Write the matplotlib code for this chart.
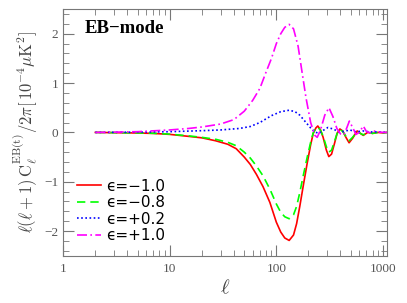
# EB-mode spectra for several epsilon values

import numpy as np
import matplotlib.pyplot as plt
from matplotlib.ticker import MultipleLocator, LogLocator, NullFormatter

plt.rcParams['mathtext.fontset'] = 'cm'

# multipoles for the negative-epsilon curves
ell_neg = [2, 3, 5, 7, 10, 15, 20, 27, 35, 42, 50, 57, 65, 75, 87, 100, 110, 120,
           132, 145, 155, 166, 180, 195, 210, 222, 235, 245, 260, 275, 295, 311,
           330, 352, 372, 395, 420, 450, 482, 520, 574, 615, 655, 720, 800, 900,
           1000, 1100]
eps_m10 = [0, -0.005, -0.012, -0.02, -0.04, -0.08, -0.11, -0.17, -0.24, -0.33,
           -0.5, -0.65, -0.85, -1.1, -1.42, -1.82, -2.02, -2.14, -2.19, -2.08,
           -1.85, -1.5, -1.05, -0.62, -0.25, -0.02, 0.09, 0.13, 0.05, -0.1,
           -0.36, -0.49, -0.44, -0.22, -0.02, 0.07, 0.03, -0.1, -0.21, -0.12,
           0.03, -0.02, -0.06, 0.0, -0.02, 0.0, -0.01, 0]
eps_m08 = [0, -0.005, -0.01, -0.018, -0.035, -0.07, -0.1, -0.14, -0.2, -0.27,
           -0.4, -0.52, -0.68, -0.88, -1.15, -1.45, -1.62, -1.71, -1.75, -1.67,
           -1.5, -1.22, -0.85, -0.5, -0.2, -0.01, 0.08, 0.11, 0.04, -0.08,
           -0.29, -0.4, -0.36, -0.18, -0.02, 0.06, 0.02, -0.08, -0.17, -0.1,
           0.02, -0.02, -0.05, 0.0, -0.02, 0, -0.01, 0]

ell_p02 = [2, 5, 10, 20, 30, 45, 57, 70, 90, 110, 132, 150, 166, 190, 210, 230,
           250, 275, 305, 340, 390, 430, 490, 560, 650, 750, 900, 1100]
eps_p02 = [0, 0.005, 0.015, 0.035, 0.05, 0.08, 0.12, 0.2, 0.34, 0.42, 0.45, 0.42,
           0.35, 0.2, 0.09, 0.01, -0.02, 0.04, 0.1, 0.07, 0.01, 0.02, 0.05, 0.01,
           0.03, 0.01, 0.01, 0]

ell_p10 = [2, 3, 5, 10, 15, 20, 30, 40, 50, 60, 70, 80, 90, 100, 110, 120, 132,
           145, 160, 175, 190, 210, 230, 242, 260, 285, 312, 340, 370, 400, 430,
           460, 485, 520, 560, 600, 655, 700, 760, 820, 900, 1000, 1100]
eps_p10 = [0, 0.005, 0.015, 0.05, 0.08, 0.11, 0.17, 0.26, 0.43, 0.65, 0.89, 1.22,
           1.5, 1.8, 2.0, 2.13, 2.19, 2.1, 1.75, 1.2, 0.7, 0.2, -0.06, -0.1, 0.05,
           0.35, 0.5, 0.32, 0.08, -0.03, -0.05, 0.1, 0.23, 0.1, -0.04, 0.0, 0.13,
           0.02, -0.01, 0.03, 0.01, 0.0, 0]

labels = ['\u03f5=\u22121.0', '\u03f5=\u22120.8', '\u03f5=+0.2', '\u03f5=+1.0']

fig = plt.figure(figsize=(4.07, 3.03), dpi=100)
ax = fig.add_axes([0.1555, 0.156, 0.796, 0.814])

ax.plot(ell_neg, eps_m10, color='#ff0000', lw=1.2, label=labels[0])
ax.plot(ell_neg, eps_m08, color='#00ff00', lw=1.2, ls=(0, (5, 3)), label=labels[1])
ax.plot(ell_p02, eps_p02, color='#0000ff', lw=1.2, ls=(0, (1, 1.5)), label=labels[2])
ax.plot(ell_p10, eps_p10, color='#ff00ff', lw=1.2, ls=(0, (6, 2, 1, 2)), label=labels[3])

ax.set_xscale('log')
ax.set_xlim(1, 1100)
ax.set_ylim(-2.5, 2.5)
ax.set_xticks([1, 10, 100, 1000])
ax.set_xticklabels(['1', '10', '100', '1000'])
ax.xaxis.set_minor_locator(LogLocator(base=10, subs=np.arange(2, 10)))
ax.xaxis.set_minor_formatter(NullFormatter())
ax.yaxis.set_major_locator(MultipleLocator(1))
ax.yaxis.set_minor_locator(MultipleLocator(0.2))

gray = '#777777'
for s in ax.spines.values():
    s.set_color(gray)
ax.tick_params(which='both', direction='in', top=True, right=True, colors=gray,
               labelcolor='#555555', labelsize=9.5)
ax.tick_params(which='major', length=8)
ax.tick_params(which='minor', length=4)
for lab in ax.get_xticklabels() + ax.get_yticklabels():
    lab.set_family('Liberation Serif')
ax.tick_params(axis='x', pad=5)

ax.set_xlabel(r'$\ell$', fontsize=15, color='#444444', labelpad=2)
ax.set_ylabel(r'$\ell(\ell+1)\,\mathrm{C}_\ell^{\mathrm{EB(t)}}/2\pi[\,10^{-4}\mu\mathrm{K}^2]$',
              fontsize=12, color='#444444', labelpad=3)

ax.text(0.067, 0.905, 'EB\u2212mode', transform=ax.transAxes, fontsize=13.5,
        family='Liberation Serif', fontweight='bold', va='baseline')

leg = ax.legend(loc='lower left', bbox_to_anchor=(0.02, 0.02), frameon=False,
                prop={'family': 'DejaVu Sans', 'size': 11, 'weight': 'medium'},
                handlelength=1.55, handletextpad=0.3,
                labelspacing=0.1, borderaxespad=0.1)

fig.savefig('out.png', dpi=100)
